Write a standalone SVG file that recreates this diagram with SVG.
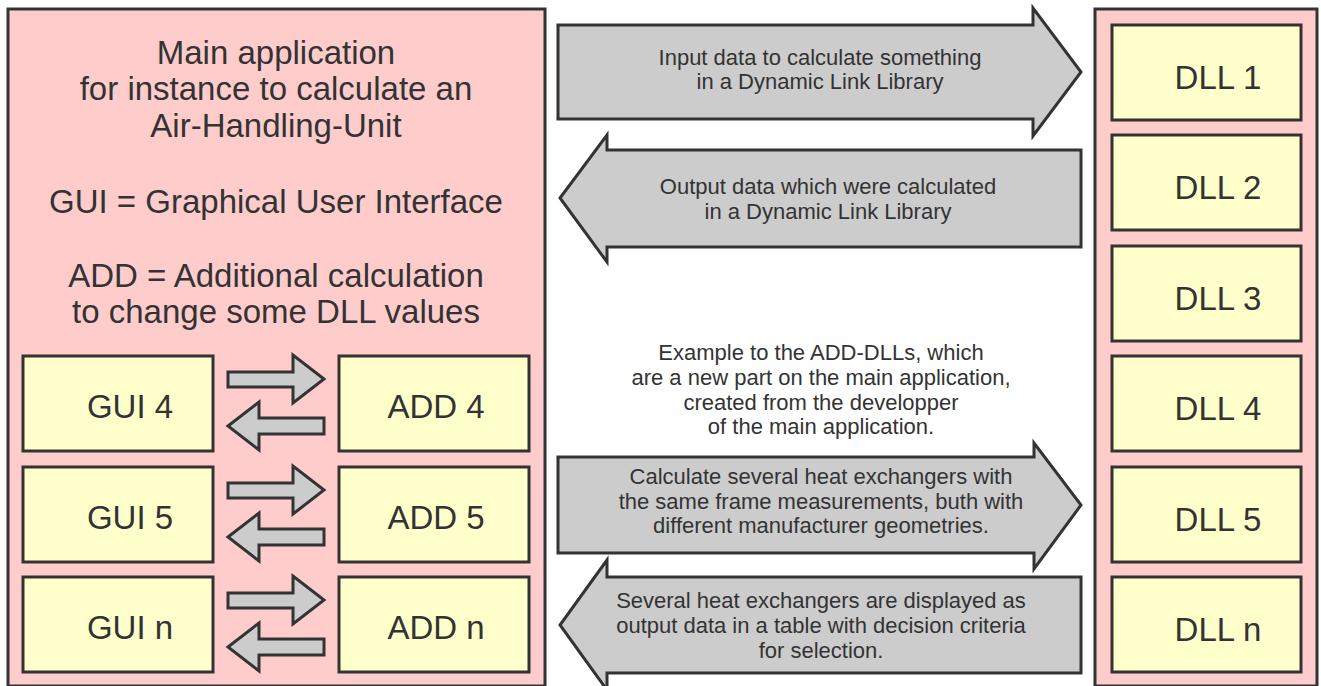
<svg xmlns="http://www.w3.org/2000/svg" width="1321" height="686" viewBox="0 0 1321 686">
<style>
.panel{fill:#ffcccc;stroke:#333;stroke-width:3}
.box{fill:#ffffcc;stroke:#333;stroke-width:3}
.arrow{fill:#cccccc;stroke:#333;stroke-width:3;stroke-linejoin:miter}
.big{font-family:"Liberation Sans",Arial,sans-serif;font-size:33px;fill:#333;text-anchor:middle}
.lbl{font-family:"Liberation Sans",Arial,sans-serif;font-size:22px;fill:#333;text-anchor:middle}
</style>
<rect width="1321" height="686" fill="#ffffff"/>
<g id="main-app">
<rect class="panel" x="8" y="9" width="537" height="677"/>
<text class="big" x="276" y="64">Main application</text>
<text class="big" x="276" y="100">for instance to calculate an</text>
<text class="big" x="276" y="137">Air-Handling-Unit</text>
<text class="big" x="276" y="213">GUI = Graphical User Interface</text>
<text class="big" x="276" y="287">ADD = Additional calculation</text>
<text class="big" x="276" y="323">to change some DLL values</text>
</g>
<g id="gui4"><rect class="box" x="23" y="356" width="190" height="95"/><text class="big" x="130" y="418">GUI 4</text></g>
<g id="gui5"><rect class="box" x="23" y="467" width="190" height="95"/><text class="big" x="130" y="529">GUI 5</text></g>
<g id="guin"><rect class="box" x="23" y="577" width="190" height="95"/><text class="big" x="130" y="639">GUI n</text></g>
<g id="add4"><rect class="box" x="339" y="356" width="190" height="95"/><text class="big" x="436" y="418">ADD 4</text></g>
<g id="add5"><rect class="box" x="339" y="467" width="190" height="95"/><text class="big" x="436" y="529">ADD 5</text></g>
<g id="addn"><rect class="box" x="339" y="577" width="190" height="95"/><text class="big" x="436" y="639">ADD n</text></g>
<g id="dll-panel"><rect class="panel" x="1095" y="9" width="222" height="677"/></g>
<g id="dll1"><rect class="box" x="1112" y="25" width="189" height="95"/><text class="big" x="1218" y="89">DLL 1</text></g>
<g id="dll2"><rect class="box" x="1112" y="135" width="189" height="95"/><text class="big" x="1218" y="199">DLL 2</text></g>
<g id="dll3"><rect class="box" x="1112" y="246" width="189" height="95"/><text class="big" x="1218" y="310">DLL 3</text></g>
<g id="dll4"><rect class="box" x="1112" y="356" width="189" height="95"/><text class="big" x="1218" y="420">DLL 4</text></g>
<g id="dll5"><rect class="box" x="1112" y="467" width="189" height="95"/><text class="big" x="1218" y="531">DLL 5</text></g>
<g id="dlln"><rect class="box" x="1112" y="577" width="189" height="95"/><text class="big" x="1218" y="641">DLL n</text></g>
<g id="note">
<text class="lbl" x="821" y="360">Example to the ADD-DLLs, which</text>
<text class="lbl" x="821" y="385">are a new part on the main application,</text>
<text class="lbl" x="821" y="410">created from the developper</text>
<text class="lbl" x="821" y="434">of the main application.</text>
</g>
<g id="connectors">
<path class="arrow" d="M228,372 H293 V355 L324,379 L293,403 V387 H228 Z"/>
<path class="arrow" d="M228,426 L259,402 V418 H324 V434 H259 V450 Z"/>
<path class="arrow" d="M228,483 H293 V466 L324,490 L293,514 V498 H228 Z"/>
<path class="arrow" d="M228,537 L259,513 V529 H324 V545 H259 V561 Z"/>
<path class="arrow" d="M228,593 H293 V576 L324,600 L293,624 V608 H228 Z"/>
<path class="arrow" d="M228,647 L259,623 V639 H324 V655 H259 V671 Z"/>
<path class="arrow" d="M558,25 H1033 V8 L1081,72 L1033,136 V119 H558 Z"/>
<text class="lbl" x="820" y="65">Input data to calculate something</text>
<text class="lbl" x="820" y="89">in a Dynamic Link Library</text>
<path class="arrow" d="M1081,150 H607 V135 L560,198 L607,262 V247 H1081 Z"/>
<text class="lbl" x="828" y="194">Output data which were calculated</text>
<text class="lbl" x="828" y="219">in a Dynamic Link Library</text>
<path class="arrow" d="M558,457 H1034 V443 L1081,505 L1034,569 V553 H558 Z"/>
<text class="lbl" x="821" y="484">Calculate several heat exchangers with</text>
<text class="lbl" x="821" y="509">the same frame measurements, buth with</text>
<text class="lbl" x="821" y="533">different manufacturer geometries.</text>
<path class="arrow" d="M1081,577 H607 V560 L560,625 L607,690 V673 H1081 Z"/>
<text class="lbl" x="821" y="608">Several heat exchangers are displayed as</text>
<text class="lbl" x="821" y="633">output data in a table with decision criteria</text>
<text class="lbl" x="821" y="658">for selection.</text>
</g>
</svg>
